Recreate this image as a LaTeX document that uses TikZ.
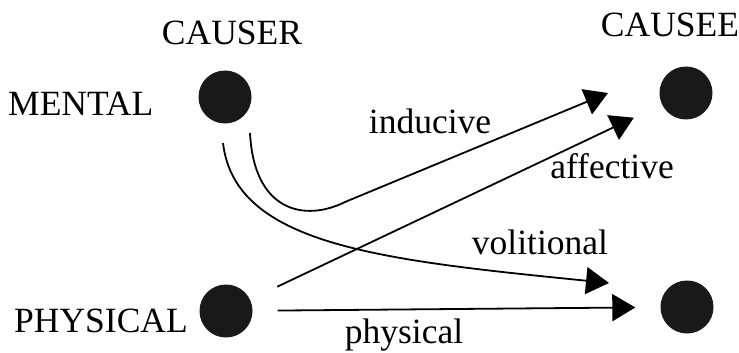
\documentclass[tikz,border=0pt]{standalone}
\usepackage{fontspec}
\setmainfont{Liberation Serif}
\usetikzlibrary{arrows.meta}
\begin{document}
\begin{tikzpicture}[x=1pt,y=-1pt,
  dot/.style={circle,fill=black!90,inner sep=0pt,minimum size=53pt},
  lbl/.style={font=\fontsize{35.5}{40}\selectfont,anchor=base,inner sep=0pt},
  conn/.style={line width=1.8pt,-{Triangle[length=23pt,width=27pt]}}]
\useasboundingbox (0,0) rectangle (739,353);
% dots
\node[dot] (mc) at (225,97) {};
\node[dot] (pc) at (226,311) {};
\node[dot] (me) at (686,93) {};
\node[dot] (pe) at (687,307) {};
% headings and row labels
\node[lbl] (causer) at (232,45) {CAUSER};
\node[lbl] (causee) at (670,37) {CAUSEE};
\node[lbl,anchor=base west] (mental) at (8,115) {MENTAL};
\node[lbl,anchor=base west] (physicalrow) at (14,332) {PHYSICAL};
% connector labels
\node[lbl] (linducive) at (430,133) {inducive};
\node[lbl] (laffective) at (612,178) {affective};
\node[lbl] (lvolitional) at (540,254) {volitional};
\node[lbl] (lphysical) at (404,343) {physical};
% connectors
\coordinate (is) at (250,133);
\coordinate (it) at (608,93);
\draw[conn] (is) .. controls (254,212) and (305,222) .. (345,202) -- (it);
\coordinate (vs) at (223,143);
\coordinate (vt) at (609,283);
\draw[conn] (vs) .. controls (235,245) and (380,260) .. (vt);
\draw[conn,shorten <=30pt,shorten >=31pt] (pc) -- (me);
\draw[conn,shorten <=25pt,shorten >=25pt] (pc) -- (pe);
\end{tikzpicture}
\end{document}
